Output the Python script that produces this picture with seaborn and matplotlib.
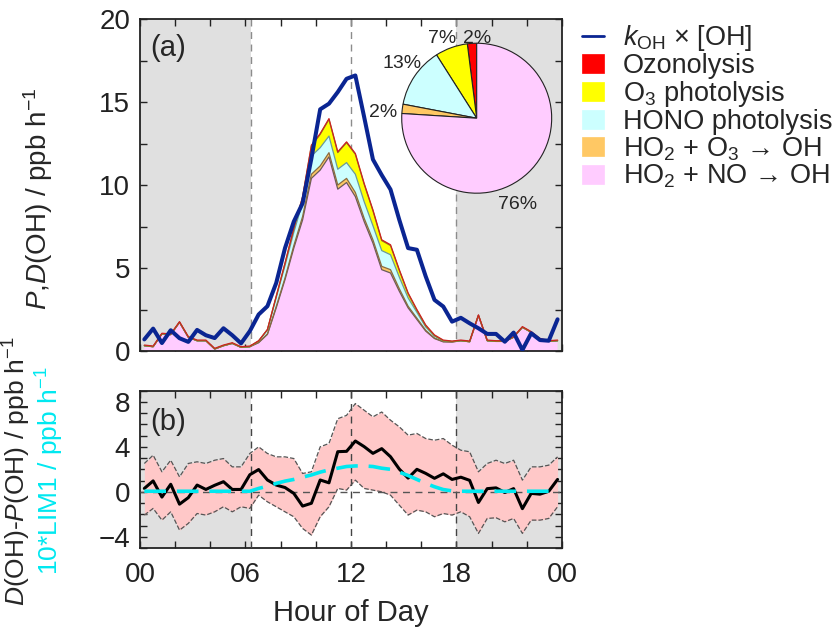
import numpy as np
import matplotlib
matplotlib.use("Agg")
import matplotlib.pyplot as plt
import seaborn as sns
from matplotlib.patches import Patch
from matplotlib.lines import Line2D
from matplotlib.ticker import MultipleLocator, FixedLocator

# =========================
# DATA (half-hour bins, bin centres)
# =========================
HOURS = np.arange(0.25, 24, 0.5)

# k_OH x [OH]  (total OH loss), ppb/h
KOH_OH = [0.70, 1.35, 0.48, 1.25, 0.77, 0.55, 1.27, 0.95, 0.78, 1.37, 0.95, 0.46,
          1.20, 2.20, 2.70, 4.10, 6.20, 7.80, 8.90, 11.60, 14.56, 14.90, 15.60, 16.40,
          16.60, 14.10, 11.54, 10.60, 9.73, 7.90, 6.20, 6.10, 4.50, 3.08, 2.68, 1.77,
          2.00, 1.67, 1.37, 1.03, 1.03, 0.56, 1.11, 0.06, 1.07, 0.66, 0.62, 1.91]

# OH production terms (stacked), ppb/h
P_HO2_NO = [0.32, 0.26, 1.03, 0.99, 1.73, 0.83, 0.62, 0.62, 0.12, 0.32, 0.46, 0.22,
            0.26, 0.50, 1.00, 2.60, 4.30, 6.20, 7.90, 10.40, 10.90, 11.70, 9.75, 10.15,
            9.30, 7.80, 6.50, 4.90, 4.70, 3.60, 2.60, 1.90, 1.20, 0.75, 0.55, 0.54,
            0.62, 0.56, 2.14, 0.62, 0.58, 0.58, 0.83, 1.43, 1.13, 0.72, 0.58, 0.62]
P_HO2_O3 = [0, 0, 0, 0, 0, 0, 0, 0, 0, 0, 0, 0,
            0, 0.02, 0.03, 0.08, 0.10, 0.15, 0.20, 0.25, 0.25, 0.25, 0.25, 0.25,
            0.25, 0.20, 0.20, 0.20, 0.20, 0.15, 0.10, 0.08, 0.05, 0.03, 0.02, 0.01,
            0, 0, 0, 0, 0, 0, 0, 0, 0, 0, 0, 0]
P_HONO = [0, 0, 0, 0, 0, 0, 0, 0, 0, 0, 0, 0,
          0, 0.08, 0.25, 0.55, 0.75, 0.80, 0.85, 1.10, 1.10, 1.00, 0.95, 0.95,
          1.10, 1.00, 0.85, 0.95, 0.90, 0.70, 0.50, 0.35, 0.20, 0.12, 0.05, 0.02,
          0, 0, 0, 0, 0, 0, 0, 0, 0, 0, 0, 0]
P_O3_PHOT = [0, 0, 0, 0, 0, 0, 0, 0, 0, 0, 0, 0,
             0, 0, 0, 0.05, 0.12, 0.22, 0.32, 0.60, 0.80, 1.00, 1.00, 1.20,
             1.20, 1.05, 0.90, 0.60, 0.55, 0.40, 0.25, 0.12, 0.07, 0.03, 0, 0,
             0, 0, 0, 0, 0, 0, 0, 0, 0, 0, 0, 0]
P_OZONOLYSIS = [0.04, 0.04, 0.04, 0.04, 0.04, 0.04, 0.04, 0.04, 0.04, 0.04, 0.04, 0.04,
                0.04, 0.02, 0.02, 0.02, 0.03, 0.03, 0.03, 0.05, 0.05, 0.05, 0.05, 0.05,
                0.05, 0.05, 0.05, 0.05, 0.05, 0.05, 0.05, 0.05, 0.05, 0.04, 0.04, 0.03,
                0.04, 0.04, 0.04, 0.04, 0.04, 0.04, 0.04, 0.04, 0.04, 0.04, 0.04, 0.04]

# pie shares (%), drawn counter-clockwise from the top
PIE_SHARES = [2, 7, 13, 2, 76]

# D(OH) - P(OH) with its uncertainty band, and 10*LIM1
D_MINUS_P = [0.30, 0.97, -0.47, 0.67, -1.10, -0.52, 0.60, 0.21, 0.58, 0.90, 0.21, 0.21,
             1.52, 1.98, 1.05, 0.60, 0.38, -0.14, -1.27, -1.02, 1.05, 0.80, 3.57, 3.60,
             4.52, 4.02, 3.42, 3.84, 3.12, 2.02, 1.22, 2.00, 1.64, 1.20, 1.60, 1.10,
             1.30, 1.02, -0.95, 0.28, 0.35, -0.06, 0.28, -1.50, -0.14, -0.21, 0.05, 1.10]
UPPER = [2.52, 3.26, 1.78, 2.81, 1.33, 2.52, 2.67, 2.52, 2.81, 2.96, 2.22, 2.22,
         3.41, 4.00, 3.41, 3.11, 3.11, 2.96, 1.63, 1.78, 4.00, 4.30, 6.50, 6.80,
         7.85, 7.26, 6.67, 7.10, 6.37, 5.78, 5.04, 5.19, 4.74, 4.59, 4.74, 4.15,
         3.70, 3.56, 1.78, 2.52, 2.81, 2.52, 2.81, 1.04, 2.22, 2.22, 2.37, 3.11]
LOWER = [-2.07, -1.48, -2.52, -1.78, -3.41, -2.81, -1.93, -2.07, -1.78, -1.33, -1.78, -1.33,
         -1.48, -0.30, -0.89, -1.33, -1.78, -2.22, -3.26, -3.85, -2.22, -1.33, 0.30, 0.15,
         1.04, 0.30, 0.15, 0.00, -0.30, -1.19, -2.07, -1.63, -1.78, -2.22, -1.93, -2.07,
         -1.78, -2.22, -3.70, -2.37, -2.31, -2.67, -2.37, -3.70, -2.52, -2.52, -2.37, -1.33]
LIM1_X10 = [0.05, 0.05, 0.05, 0.05, 0.05, 0.05, 0.05, 0.05, 0.05, 0.05, 0.05, 0.05,
            0.05, 0.30, 0.50, 0.75, 0.95, 1.10, 1.30, 1.50, 1.75, 1.95, 2.10, 2.25,
            2.30, 2.30, 2.25, 2.10, 2.00, 1.75, 1.45, 1.10, 0.75, 0.45, 0.20, 0.08,
            0.05, 0.05, 0.05, 0.05, 0.05, 0.05, 0.05, 0.05, 0.05, 0.05, 0.05, 0.05]

SUNRISE, SUNSET = 6.3, 18.0
XTICKS = [0, 6, 12, 18, 24]
XTICK_LABELS = ["00", "06", "12", "18", "00"]

LABELS = ["Ozonolysis", "O$_3$ photolysis", "HONO photolysis",
          "HO$_2$ + O$_3$ → OH", "HO$_2$ + NO → OH"]
FILL = ["#ff0000", "#ffff00", "#ccffff", "#ffc864", "#ffccff"]
EDGE = ["#cc2222", "#8a8a20", "#6a9a9a", "#8a6a40", "#6a5a5a"]
BLUE = "#0a2592"
CYAN = "#00e8f0"
GREY_BG = "#e0e0e0"

# =========================
# STYLE
# =========================
sns.set_theme(style="ticks")
plt.rcParams["font.family"] = ["Liberation Sans", "DejaVu Sans"]
plt.rcParams["mathtext.fontset"] = "custom"
plt.rcParams["mathtext.rm"] = "Liberation Sans"
plt.rcParams["mathtext.it"] = "Liberation Sans:italic"
plt.rcParams["mathtext.bf"] = "Liberation Sans:bold"
plt.rcParams["axes.edgecolor"] = "#222222"
plt.rcParams["axes.linewidth"] = 1.3
for ax_ in ("xtick", "ytick"):
    plt.rcParams[f"{ax_}.direction"] = "in"
    plt.rcParams[f"{ax_}.major.size"] = 5
    plt.rcParams[f"{ax_}.minor.size"] = 5
    plt.rcParams[f"{ax_}.major.width"] = 1.0
    plt.rcParams[f"{ax_}.minor.width"] = 1.0
    plt.rcParams[f"{ax_}.labelsize"] = 20
    plt.rcParams[f"{ax_}.color"] = "#222222"

fig = plt.figure(figsize=(8.38, 6.32), dpi=100)
ax_a = fig.add_axes([0.167, 0.4446, 0.5036, 0.5253])
ax_b = fig.add_axes([0.167, 0.1329, 0.5036, 0.2490])


def shade_night(ax, vcolor, vz):
    ax.axvspan(0, SUNRISE, color=GREY_BG, zorder=0, lw=0)
    ax.axvspan(SUNSET, 24, color=GREY_BG, zorder=0, lw=0)
    for x in (SUNRISE, 12, SUNSET):
        ax.axvline(x, color=vcolor, ls=(0, (5, 4)), lw=1.0, zorder=vz)


def hour_axis(ax, labels):
    ax.set_xlim(0, 24)
    ax.xaxis.set_major_locator(FixedLocator(XTICKS))
    ax.xaxis.set_minor_locator(MultipleLocator(2))
    ax.tick_params(which="both", top=True, right=True)
    ax.tick_params(axis="y", pad=7)
    ax.tick_params(axis="x", pad=10)
    if labels:
        ax.set_xticklabels(XTICK_LABELS)
    else:
        ax.set_xticklabels([])


# =========================
# (a) OH budget
# =========================
shade_night(ax_a, "#8c8c8c", 1)
layers = [P_HO2_NO, P_HO2_O3, P_HONO, P_O3_PHOT, P_OZONOLYSIS]
base = np.zeros(len(HOURS))
for vals, fc, ec in zip(layers, FILL[::-1], EDGE[::-1]):
    top = base + np.array(vals)
    ax_a.fill_between(HOURS, base, top, facecolor=fc, edgecolor="none", zorder=2)
    ax_a.plot(HOURS, top, color=ec, lw=0.9, zorder=3)
    base = top

sns.lineplot(x=HOURS, y=KOH_OH, ax=ax_a, color=BLUE, lw=2.9, zorder=5)
ax_a.set_ylim(0, 20)
ax_a.yaxis.set_major_locator(MultipleLocator(5))
ax_a.yaxis.set_minor_locator(MultipleLocator(2.5))
hour_axis(ax_a, labels=False)
ax_a.set_xlabel("")
ax_a.text(0.025, 0.955, "(a)", transform=ax_a.transAxes, fontsize=21,
          ha="left", va="top", zorder=6)

# inset pie of the daily production shares
ax_pie = fig.add_axes([0.457, 0.6646, 0.2237, 0.2967])
wedges, texts, autotexts = ax_pie.pie(
    PIE_SHARES, colors=FILL, startangle=90, counterclock=True,
    autopct="%d%%", pctdistance=1.2,
    wedgeprops=dict(edgecolor="#222222", linewidth=0.8),
    textprops=dict(fontsize=14))
# small nudges so the neighbouring labels don't collide
nudges = [(0.08, -0.13), (-0.05, -0.06), (0.0, 0.05), (-0.06, -0.07), (-0.27, -0.28)]
for t, (dx, dy) in zip(autotexts, nudges):
    x, y = t.get_position()
    t.set_position((x + dx, y + dy))

# =========================
# (b) D(OH) - P(OH)
# =========================
shade_night(ax_b, "#444444", 3)
ax_b.axhline(0, color="#555555", ls=(0, (5, 4)), lw=1.0, zorder=3)
ax_b.fill_between(HOURS, LOWER, UPPER, color="#ffc8c8", lw=0, zorder=2)
sns.lineplot(x=HOURS, y=UPPER, ax=ax_b, color="#555555", lw=0.9, ls="--", zorder=3)
sns.lineplot(x=HOURS, y=LOWER, ax=ax_b, color="#555555", lw=0.9, ls="--", zorder=3)
sns.lineplot(x=HOURS, y=D_MINUS_P, ax=ax_b, color="black", lw=2.2, zorder=4)
sns.lineplot(x=HOURS, y=LIM1_X10, ax=ax_b, color=CYAN, lw=2.6, zorder=5,
             dashes=False, linestyle=(0, (6, 3)))
ax_b.set_ylim(-5, 9)
ax_b.yaxis.set_major_locator(FixedLocator([-4, 0, 4, 8]))
ax_b.yaxis.set_minor_locator(MultipleLocator(1))
hour_axis(ax_b, labels=True)
ax_b.set_xlabel("Hour of Day", fontsize=21, labelpad=8)
ax_b.text(0.025, 0.89, "(b)", transform=ax_b.transAxes, fontsize=21,
          ha="left", va="top", zorder=6)

# y labels
fig.text(0.045, 0.685, "$P$,$D$(OH) / ppb h$^{-1}$", rotation=90,
         fontsize=20, ha="center", va="center")
fig.text(0.020, 0.255, "$D$(OH)-$P$(OH) / ppb h$^{-1}$", rotation=90,
         fontsize=19, ha="center", va="center")
fig.text(0.059, 0.255, "10*LIM1 / ppb h$^{-1}$", rotation=90, color=CYAN,
         fontsize=19, ha="center", va="center")

# legend
handles = [Line2D([0], [0], color=BLUE, lw=2)]
handles += [Patch(facecolor=fc, edgecolor=fc, lw=0.5) for fc in FILL]
fig.legend(handles, ["$k_{\\mathrm{OH}}$ × [OH]"] + LABELS,
           loc="upper left", bbox_to_anchor=(0.695, 0.963), frameon=False,
           fontsize=19.5, handlelength=0.8, handleheight=0.7, handletextpad=0.7,
           labelspacing=0.0, borderpad=0, borderaxespad=0)

fig.savefig("out.png", dpi=100)
